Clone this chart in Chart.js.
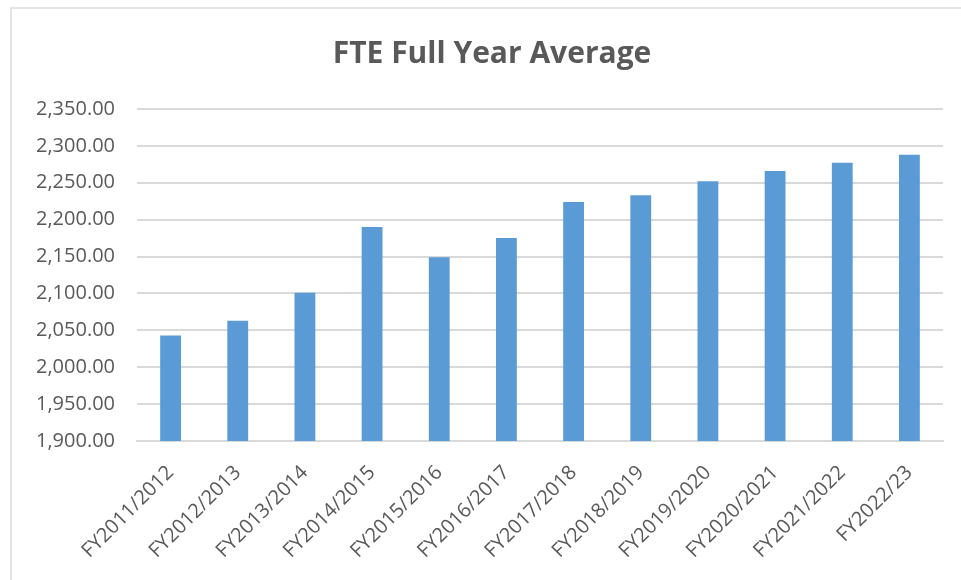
<!DOCTYPE html>
<html>
<head>
<meta charset="utf-8">
<script src="https://cdn.jsdelivr.net/npm/chart.js@4.4.1/dist/chart.umd.min.js"></script>
<style>
    html, body { margin: 0; padding: 0; background: #fff; }
    #wrap { position: relative; width: 961px; height: 580px; }
    #frame {
        position: absolute; left: 10px; top: 7px; right: 0; bottom: 0;
        border-left: 2px solid #e3e3e3; border-top: 2px solid #e3e3e3;
        pointer-events: none;
    }
</style>
</head>
<body>
<div id="wrap">
    <canvas id="chart_fte" width="961" height="580"></canvas>
    <div id="frame"></div>
</div>
<script>
// datos
var categorias = ['FY2011/2012', 'FY2012/2013', 'FY2013/2014', 'FY2014/2015', 'FY2015/2016', 'FY2016/2017',
    'FY2017/2018', 'FY2018/2019', 'FY2019/2020', 'FY2020/2021', 'FY2021/2022', 'FY2022/23'];
var fte_promedio = [2043, 2063, 2101, 2190, 2149, 2175, 2224, 2233, 2252, 2266, 2277, 2288];
var eje_y = { min: 1900, max: 2350, paso: 50 };
var titulo = 'FTE Full Year Average';

var gris = '#595959';
var fuente = "'Open Sans', 'Noto Sans', sans-serif";

// titulo centrado en el marco del grafico (no en el area de barras), como Excel
var tituloExcel = {
    id: 'tituloExcel',
    afterDraw: function(chart) {
        var ctx = chart.ctx;
        ctx.save();
        ctx.font = 'bold 30px ' + fuente;
        ctx.fillStyle = gris;
        ctx.textAlign = 'center';
        ctx.textBaseline = 'middle';
        ctx.fillText(titulo, 492, 54);
        ctx.restore();
    }
};

var datos = {
    labels: categorias,
    datasets: [{
        label: titulo,
        data: fte_promedio,
        backgroundColor: '#5b9bd5',
        categoryPercentage: 1,
        barPercentage: 0.31
    }]
};

var canvas = document.getElementById('chart_fte').getContext('2d');
window.barras = new Chart(canvas, {
    type: 'bar',
    data: datos,
    plugins: [tituloExcel],
    options: {
        responsive: false,
        animation: false,
        layout: { padding: { left: 0, right: 18, top: 109, bottom: 0 } },
        plugins: {
            legend: { display: false },
            tooltip: { enabled: false },
            title: { display: false }
        },
        scales: {
            x: {
                grid: { display: false, drawTicks: false },
                border: { display: true, color: '#d9d9d9', width: 2 },
                ticks: {
                    color: gris,
                    font: { family: fuente, size: 20 },
                    maxRotation: 45,
                    minRotation: 45,
                    padding: 20,
                    autoSkip: false
                },
                afterFit: function(scale) { scale.height = 139; }
            },
            y: {
                min: eje_y.min,
                max: eje_y.max,
                grid: { color: '#d9d9d9', lineWidth: 2, drawTicks: false },
                border: { display: false },
                ticks: {
                    stepSize: eje_y.paso,
                    color: gris,
                    padding: 22,
                    font: { family: fuente, size: 20 },
                    callback: function(v) {
                        return v.toLocaleString('en-US', { minimumFractionDigits: 2, maximumFractionDigits: 2 });
                    }
                },
                afterFit: function(scale) { scale.width = 137; }
            }
        }
    }
});
</script>
</body>
</html>
